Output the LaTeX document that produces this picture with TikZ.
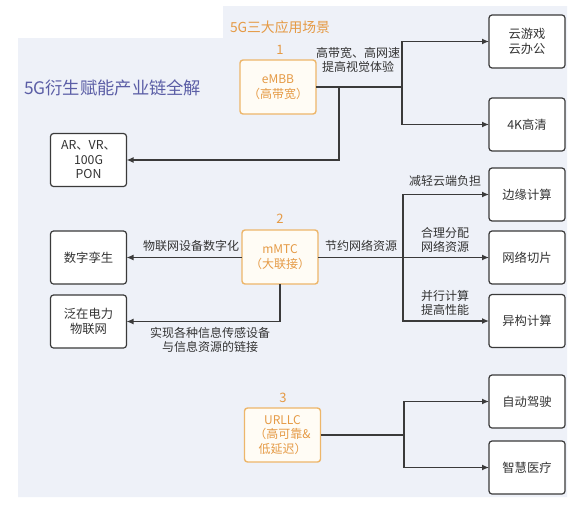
\documentclass[tikz,border=0pt]{standalone}
\usepackage{fontspec}
\setmainfont{Noto Sans CJK SC}
\usetikzlibrary{arrows.meta}
\definecolor{bgc}{HTML}{EEF1F8}
\definecolor{linec}{HTML}{3A3A3A}
\definecolor{txtc}{HTML}{333333}
\definecolor{orangeb}{HTML}{EDB66A}
\definecolor{orangec}{HTML}{E59A45}
\definecolor{creamc}{HTML}{FFFCF5}
\definecolor{bluec}{HTML}{5B5EA6}
\begin{document}
\begin{tikzpicture}[x=1pt,y=-1pt,
  every node/.style={inner sep=0pt, outer sep=0pt},
  box/.style={draw=linec, line width=1.2pt, rounded corners=3pt, fill=white,
    minimum width=76pt, minimum height=53pt, align=center, text=txtc,
    font=\fontsize{12.3}{15.5}\selectfont},
  obox/.style={draw=orangeb, line width=1.4pt, rounded corners=3pt, fill=creamc,
    minimum width=76pt, minimum height=54pt, align=center, text=orangec,
    font=\fontsize{12}{15.5}\selectfont},
  lbl/.style={align=center, text=txtc, font=\fontsize{12}{14}\selectfont},
  num/.style={text=orangec, font=\fontsize{13}{14}\selectfont},
  conn/.style={draw=linec, line width=1.3pt},
  arr/.style={conn, -{Latex[length=7pt,width=6pt]}}]
\useasboundingbox (0,0) rectangle (577,506);
\fill[white] (0,0) rectangle (577,506);
\fill[bgc] (18,38) -- (223,38) -- (223,6) -- (567,6) -- (567,497) -- (18,497) -- cycle;

% titles
\node[anchor=west, text=orangec, font=\fontsize{13.8}{15}\selectfont] (t1) at (230,27) {5G三大应用场景};
\node[anchor=west, text=bluec, font=\fontsize{17.3}{18}\selectfont] (t2) at (24,88) {5G衍生赋能产业链全解};

% central nodes
\node[obox] (embb) at (278,87) {eMBB\\（高带宽）};
\node[obox] (mmtc) at (280,257) {mMTC\\（大联接）};
\node[obox, font=\fontsize{12}{14.5}\selectfont] (urllc) at (282.5,435) {URLLC\\（高可靠\&\\低延迟）};
\node[num] (n1) at (280,50) {1};
\node[num] (n2) at (280,219) {2};
\node[num] (n3) at (283,398) {3};

% left boxes
\node[box, font=\fontsize{12.3}{14.5}\selectfont] (ar) at (88.5,160) {AR、VR、\\100G\\PON};
\node[box] (twin) at (88.5,257.5) {数字孪生};
\node[box] (power) at (88.5,321.5) {泛在电力\\物联网};

% right boxes
\node[box] (cloud) at (527,41.5) {云游戏\\云办公};
\node[box] (hd) at (527,124.5) {4K高清};
\node[box] (edge) at (527,194.5) {边缘计算};
\node[box] (slice) at (527,257.5) {网络切片};
\node[box] (hetero) at (527,321) {异构计算};
\node[box] (auto) at (527,401.5) {自动驾驶};
\node[box] (med) at (527,467.5) {智慧医疗};

% eMBB connectors
\coordinate (j1) at (402,87);
\coordinate (b1) at (339,87);
\draw[conn] (embb.east) -- (j1);
\draw[arr] (j1) |- (cloud.west);
\draw[arr] (j1) |- (hd.west);
\draw[arr] (b1) |- (ar.east);

% mMTC connectors
\coordinate (j2) at (403,257.5);
\draw[arr] (mmtc.east |- slice.west) -- (slice.west);
\draw[arr] (j2) |- (edge.west);
\draw[arr] (j2) |- (hetero.west);
\draw[arr] (mmtc.west |- twin.east) -- (twin.east);
\draw[arr] (mmtc.south) |- (power.east);

% URLLC connectors
\coordinate (j3) at (404,435);
\draw[conn] (urllc.east) -- (j3);
\draw[arr] (j3) |- (auto.west);
\draw[arr] (j3) |- (med.west);

% labels
\node[lbl] (l1) at (358,60) {高带宽、高网速\\提高视觉体验};
\node[lbl] (l2) at (445,181) {减轻云端负担};
\node[lbl] (l3) at (361,246) {节约网络资源};
\node[lbl] (l4) at (445,240) {合理分配\\网络资源};
\node[lbl] (l5) at (445,303) {并行计算\\提高性能};
\node[lbl] (l6) at (191,246) {物联网设备数字化};
\node[lbl] (l7) at (210,339.5) {实现各种信息传感设备\\与信息资源的链接};
\end{tikzpicture}
\end{document}
